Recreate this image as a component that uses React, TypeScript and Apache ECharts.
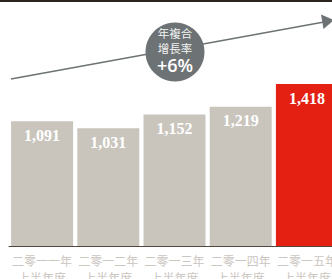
import React, { useEffect, useRef } from "react";
import * as echarts from "echarts";

const categories = [
  "二零一一年\n上半年度",
  "二零一二年\n上半年度",
  "二零一三年\n上半年度",
  "二零一四年\n上半年度",
  "二零一五年\n上半年度",
];
const values = [1091, 1031, 1152, 1219, 1418];
const highlightIndex = 4;
const cagrLines = ["年複合", "增長率"];
const cagrValue = "+6%";

export default function App() {
  const ref = useRef<HTMLDivElement>(null);
  useEffect(() => {
    document.body.style.margin = "0";
    if (!ref.current) return;
    const chart = echarts.init(ref.current, undefined, { renderer: "svg" });
    const grey = "#c9c5bd";
    const red = "#e42013";
    const arrowColor = "#6d7275";
    chart.setOption({
      animation: false,
      grid: {
        left: 9,
        right: 0,
        top: 84,
        bottom: 33,
        containLabel: false,
        outerBoundsMode: "none",
      },
      xAxis: {
        type: "category",
        data: categories,
        axisLine: { show: true, lineStyle: { color: "#54473f", width: 1 } },
        axisTick: { show: false },
        axisLabel: {
          interval: 0,
          color: "#cbc6bf",
          fontSize: 12,
          lineHeight: 17,
          margin: 6,
          fontFamily: "Noto Sans CJK TC",
        },
      },
      yAxis: {
        type: "value",
        min: 0,
        max: 1418,
        show: false,
        splitLine: { show: false },
      },
      series: [
        {
          type: "bar",
          barWidth: 62,
          data: values.map((v, i) => ({
            value: v,
            itemStyle: { color: i === highlightIndex ? red : grey },
          })),
          label: {
            show: true,
            position: "insideTop",
            distance: 6,
            color: "#ffffff",
            fontFamily: "Liberation Serif",
            fontWeight: "bold",
            fontSize: 16,
            formatter: (p: any) => p.value.toLocaleString("en-US"),
          },
        },
      ],
      graphic: [
        {
          type: "rect",
          shape: { x: 0, y: 0, width: 340, height: 2 },
          style: { fill: "#2d231f" },
        },
        {
          type: "line",
          shape: { x1: 11, y1: 79, x2: 324, y2: 22 },
          style: { stroke: arrowColor, lineWidth: 1.5 },
        },
        {
          type: "polygon",
          shape: { points: [[334, 20], [321, 14.5], [323.5, 29]] },
          style: { fill: arrowColor },
        },
        {
          type: "circle",
          shape: { cx: 175, cy: 52, r: 29.5 },
          style: { fill: arrowColor },
        },
        {
          type: "text",
          x: 175,
          y: 33,
          style: {
            text: cagrLines[0],
            fill: "#f2f2f2",
            fontSize: 11.5,
            lineHeight: 12,
            fontFamily: "Noto Sans CJK TC",
            align: "center",
            verticalAlign: "middle",
          },
        },
        {
          type: "text",
          x: 175,
          y: 48,
          style: {
            text: cagrLines[1],
            fill: "#f2f2f2",
            fontSize: 11.5,
            lineHeight: 12,
            fontFamily: "Noto Sans CJK TC",
            align: "center",
            verticalAlign: "middle",
          },
        },
        {
          type: "text",
          x: 175,
          y: 65,
          style: {
            text: cagrValue,
            fill: "#ffffff",
            fontSize: 18,
            lineHeight: 18,
            fontWeight: 600,
            fontFamily: "Open Sans",
            align: "center",
            verticalAlign: "middle",
          },
        },
      ],
    });
    return () => chart.dispose();
  }, []);
  return (
    <div style={{ width: 332, height: 279, overflow: "hidden" }}>
      <div ref={ref} style={{ width: 340, height: 279 }} />
    </div>
  );
}
